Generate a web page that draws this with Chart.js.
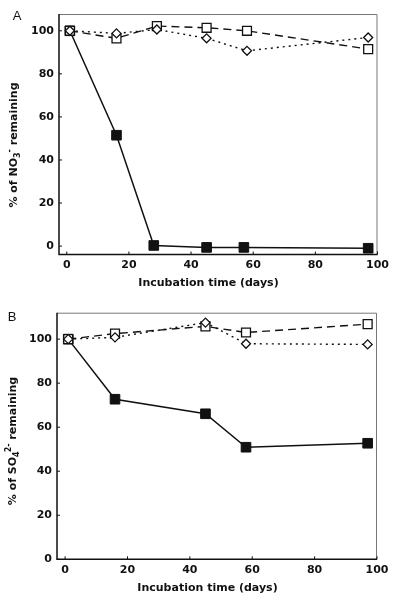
<!DOCTYPE html>
<html><head><meta charset="utf-8">
<script src="https://cdn.jsdelivr.net/npm/chart.js@4"></script>
<style>
html,body{margin:0;padding:0;background:#fff;}
#wrap{position:relative;width:400px;height:603px;}
.box{position:absolute;left:0;width:400px;}
</style></head><body>
<div id="wrap">
<div class="box" style="top:0;height:300px"><canvas id="cA"></canvas></div>
<div class="box" style="top:300px;height:303px"><canvas id="cB"></canvas></div>
</div>
<script>
const xTicks = [0, 20, 40, 60, 80, 100];
const yTicks = [0, 20, 40, 60, 80, 100];

// Panel A: % of NO3- remaining
const daysA_filled = [1, 16, 28, 45, 57, 97];
const nitrateFilled = [100, 51.5, 0.3, -0.6, -0.6, -1];
const daysA_open = [1, 16, 29, 45, 58, 97];
const nitrateOpenSquare = [100, 96.5, 102.2, 101.4, 100, 91.5];
const nitrateDiamond = [100, 98.8, 100.6, 96.5, 90.7, 96.9];

// Panel B: % of SO4 2- remaining
const daysB = [1, 16, 45, 58, 97];
const sulfateFilled = [100, 72.7, 66.1, 50.9, 52.7];
const sulfateOpenSquare = [100, 102.5, 105.8, 103, 106.8];
const sulfateDiamond = [100, 100.8, 107.5, 97.9, 97.6];

const xTitle = 'Incubation time (days)';

const FONT = {family: 'DejaVu Sans', weight: 'bold', size: 11};
const INK = '#111';

function pts(xs, ys) { return xs.map((x, i) => ({x: x, y: ys[i]})); }

function diamondSet(data) {
  return {data, borderColor: INK, borderWidth: 1.4, borderDash: [2, 4], tension: 0, fill: false,
    pointStyle: 'rectRot', pointRadius: 4.5, pointBackgroundColor: '#fff', pointBorderColor: INK, pointBorderWidth: 1.3};
}
function openSquareSet(data) {
  return {data, borderColor: INK, borderWidth: 1.4, borderDash: [8, 5], tension: 0, fill: false,
    pointStyle: 'rect', pointRadius: 6.3, pointBackgroundColor: '#fff', pointBorderColor: INK, pointBorderWidth: 1.3};
}
function filledSet(data) {
  return {data, borderColor: INK, borderWidth: 1.5, tension: 0, fill: false,
    pointStyle: 'rect', pointRadius: 6.8, pointBackgroundColor: INK, pointBorderColor: INK, pointBorderWidth: 1};
}

const framePlugin = {
  id: 'frame',
  afterDraw(chart, args, o) {
    const {ctx, chartArea: a} = chart;
    const x = chart.scales.x, y = chart.scales.y;
    ctx.save();
    ctx.strokeStyle = '#777'; ctx.lineWidth = 1;
    ctx.beginPath();
    ctx.moveTo(a.left, a.top + 0.5); ctx.lineTo(a.right - 0.5, a.top + 0.5); ctx.lineTo(a.right - 0.5, a.bottom);
    ctx.stroke();
    ctx.strokeStyle = INK; ctx.lineWidth = 1.5;
    ctx.beginPath();
    ctx.moveTo(a.left, a.top); ctx.lineTo(a.left, a.bottom); ctx.lineTo(a.right, a.bottom);
    ctx.stroke();
    ctx.lineWidth = 1;
    ctx.beginPath();
    x.ticks.forEach(t => { const p = x.getPixelForValue(t.value); ctx.moveTo(p, a.bottom); ctx.lineTo(p, a.bottom - 3); });
    y.ticks.forEach(t => { const p = y.getPixelForValue(t.value); ctx.moveTo(a.left, p); ctx.lineTo(a.left + 3, p); });
    ctx.stroke();
    // panel letter
    ctx.fillStyle = INK;
    ctx.font = '13px "Liberation Sans", Arial, sans-serif';
    ctx.textAlign = 'center'; ctx.textBaseline = 'middle';
    ctx.fillText(o.letter, o.letterX, o.letterY);
    // x title
    ctx.font = 'bold 11px "DejaVu Sans"';
    ctx.fillText(xTitle, o.xTitleX, o.xTitleY);
    // y title with sub/superscripts
    ctx.translate(o.titleX, o.titleY);
    ctx.rotate(-Math.PI / 2);
    ctx.textBaseline = 'alphabetic'; ctx.textAlign = 'left';
    const big = 'bold 11px "DejaVu Sans"', small = 'bold 8px "DejaVu Sans"';
    const parts = o.parts;
    let total = 0;
    parts.forEach(p => { ctx.font = p.small ? small : big; p.w = ctx.measureText(p.t).width; total += p.w + (p.adv || 0); });
    let cx = -total / 2;
    parts.forEach(p => {
      ctx.font = p.small ? small : big;
      ctx.fillText(p.t, cx, 4 + (p.dy || 0));
      cx += p.w + (p.adv || 0);
    });
    ctx.restore();
  }
};

function makeChart(id, cfg) {
  return new Chart(document.getElementById(id), {
    type: 'line',
    data: {datasets: cfg.datasets},
    options: {
      responsive: true, maintainAspectRatio: false, animation: false, devicePixelRatio: 1,
      layout: {padding: {top: cfg.padTop, right: cfg.padRight, left: 0, bottom: 0}},
      plugins: {legend: {display: false}, tooltip: {enabled: false}, frame: cfg.frame},
      scales: {
        x: {
          type: 'linear', min: cfg.xMin, max: 100,
          afterBuildTicks(s) { s.ticks = xTicks.map(v => ({value: v})); },
          afterFit(s) { s.height = cfg.xHeight; },
          grid: {display: false, drawTicks: false}, border: {display: false},
          ticks: {color: INK, font: FONT, padding: 4, maxRotation: 0, autoSkip: false}
        },
        y: {
          type: 'linear', min: cfg.yMin, max: cfg.yMax,
          afterBuildTicks(s) { s.ticks = yTicks.map(v => ({value: v})); },
          afterFit(s) { s.width = cfg.yWidth; },
          grid: {display: false, drawTicks: false}, border: {display: false},
          ticks: {color: INK, font: FONT, padding: 5, autoSkip: false}
        }
      }
    },
    plugins: [framePlugin]
  });
}

makeChart('cA', {
  datasets: [
    diamondSet(pts(daysA_open, nitrateDiamond)),
    openSquareSet(pts(daysA_open, nitrateOpenSquare)),
    filledSet(pts(daysA_filled, nitrateFilled))
  ],
  padTop: 14, padRight: 22.5, xHeight: 45.5, yWidth: 59, xMin: -2.5, yMin: -3.9, yMax: 107.8,
  frame: {letter: 'A', letterX: 17, letterY: 16, titleX: 13, titleY: 145, xTitleX: 208.5, xTitleY: 283.5,
    parts: [{t: '% of NO'}, {t: '3', small: true, dy: 3}, {t: '-', small: true, dy: -5}, {t: ' remaining'}]}
});

makeChart('cB', {
  datasets: [
    diamondSet(pts(daysB, sulfateDiamond)),
    openSquareSet(pts(daysB, sulfateOpenSquare)),
    filledSet(pts(daysB, sulfateFilled))
  ],
  padTop: 12.7, padRight: 23, xHeight: 43.7, yWidth: 57, xMin: -2.6, yMin: 0, yMax: 112,
  frame: {letter: 'B', letterX: 12, letterY: 17.5, titleX: 12, titleY: 141, xTitleX: 207.5, xTitleY: 287.7,
    parts: [{t: '% of SO'}, {t: '4', small: true, dy: 3, adv: -1}, {t: '2-', small: true, dy: -5}, {t: ' remaining'}]}
});
</script>
</body></html>
